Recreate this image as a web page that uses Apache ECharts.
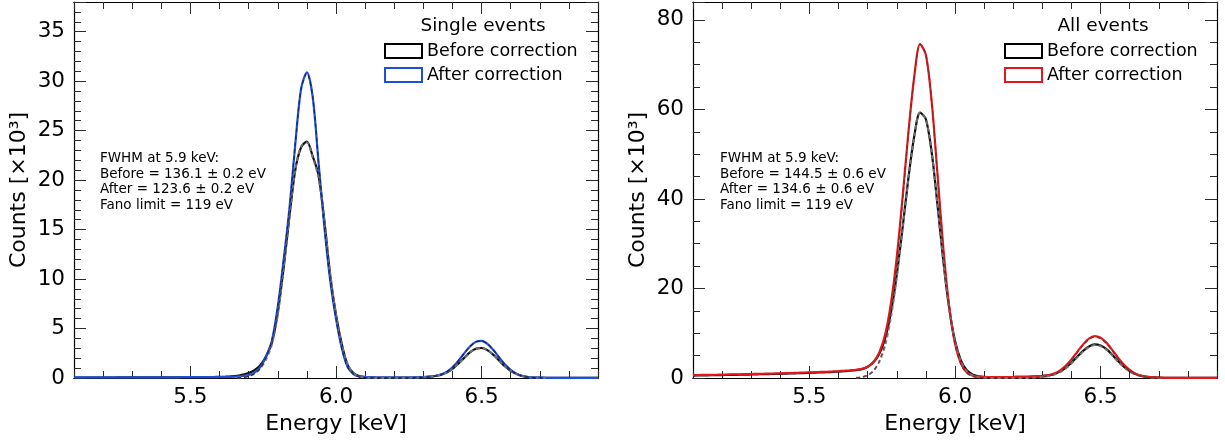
<!DOCTYPE html>
<html>
<head>
<meta charset="utf-8">
<script src="https://cdn.jsdelivr.net/npm/echarts@6.0.0/dist/echarts.min.js"></script>
<style>
    html, body { margin: 0; padding: 0; background: #fff; }
    #chart { width: 1225px; height: 440px; }
</style>
</head>
<body>
<div id="chart"></div>
<script>
// energy bins [keV]
var energy = [
    5.10, 5.12, 5.14, 5.16, 5.18, 5.20, 5.22, 5.24, 5.26, 5.28,
    5.30, 5.32, 5.34, 5.36, 5.38, 5.40, 5.42, 5.44, 5.46, 5.48,
    5.50, 5.52, 5.54, 5.56, 5.58, 5.60, 5.62, 5.64, 5.66, 5.68,
    5.70, 5.72, 5.74, 5.76, 5.78, 5.80, 5.82, 5.84, 5.86, 5.88,
    5.90, 5.92, 5.94, 5.96, 5.98, 6.00, 6.02, 6.04, 6.06, 6.08,
    6.10, 6.12, 6.14, 6.16, 6.18, 6.20, 6.22, 6.24, 6.26, 6.28,
    6.30, 6.32, 6.34, 6.36, 6.38, 6.40, 6.42, 6.44, 6.46, 6.48,
    6.50, 6.52, 6.54, 6.56, 6.58, 6.60, 6.62, 6.64, 6.66, 6.68,
    6.70, 6.72, 6.74, 6.76, 6.78, 6.80, 6.82, 6.84, 6.86, 6.88,
    6.90
];
// fits are drawn over 5.66 .. 6.72 keV
var fitEnergy = energy.slice(28, 82);

// counts [x10^3], single events
var singleBefore = [
    0.05, 0.05, 0.05, 0.05, 0.05, 0.05, 0.05, 0.05, 0.06, 0.06,
    0.06, 0.06, 0.06, 0.06, 0.07, 0.07, 0.07, 0.07, 0.07, 0.08,
    0.08, 0.08, 0.09, 0.09, 0.10, 0.11, 0.13, 0.16, 0.22, 0.35,
    0.5, 0.8, 1.3, 2.2, 3.6, 6.6, 11.1, 16.3, 21.0, 23.3,
    23.9, 22.4, 20.5, 15.9, 10.4, 6.4, 3.4, 1.3, 0.5, 0.2,
    0.1, 0.06, 0.05, 0.05, 0.05, 0.05, 0.05, 0.05, 0.05, 0.07,
    0.1, 0.14, 0.2, 0.32, 0.56, 0.93, 1.44, 2.02, 2.58, 2.95,
    3.03, 2.82, 2.36, 1.78, 1.19, 0.73, 0.40, 0.20, 0.10, 0.05,
    0.03, 0.02, 0.02, 0.02, 0.02, 0.02, 0.02, 0.02, 0.02, 0.02,
    0.02
];
var singleAfter = [
    0.06, 0.06, 0.06, 0.06, 0.06, 0.06, 0.06, 0.06, 0.06, 0.06,
    0.06, 0.06, 0.06, 0.07, 0.07, 0.07, 0.07, 0.07, 0.07, 0.08,
    0.08, 0.08, 0.08, 0.09, 0.09, 0.10, 0.10, 0.12, 0.15, 0.2,
    0.3, 0.55, 1.1, 2.2, 3.8, 7.2, 11.9, 17.1, 23.6, 29.2,
    30.9, 28.4, 21.8, 15.3, 9.9, 6.0, 3.0, 1.1, 0.4, 0.15,
    0.08, 0.06, 0.05, 0.05, 0.05, 0.05, 0.05, 0.05, 0.05, 0.07,
    0.09, 0.12, 0.2, 0.35, 0.62, 1.08, 1.73, 2.48, 3.18, 3.65,
    3.76, 3.46, 2.85, 2.10, 1.38, 0.82, 0.43, 0.20, 0.09, 0.05,
    0.03, 0.02, 0.02, 0.02, 0.02, 0.02, 0.02, 0.02, 0.02, 0.02,
    0.02
];
var singleBeforeFit = [
    0.05, 0.1, 0.2, 0.45, 0.95, 1.9, 3.4, 6.4, 11.0, 16.3,
    21.0, 23.4, 23.8, 22.3, 20.2, 15.9, 10.6, 6.4, 3.4, 1.4,
    0.5, 0.15, 0.05, 0.02, 0, 0, 0, 0, 0, 0.01,
    0.02, 0.05, 0.08, 0.13, 0.2, 0.32, 0.55, 0.92, 1.43, 2.0,
    2.57, 2.94, 3.02, 2.82, 2.36, 1.78, 1.19, 0.72, 0.39, 0.19,
    0.09, 0.04, 0.02, 0.01
];
var singleAfterFit = [
    0.02, 0.06, 0.18, 0.45, 1.0, 2.1, 3.8, 7.2, 11.9, 17.1,
    23.6, 29.2, 30.8, 28.4, 21.8, 15.3, 9.9, 6.0, 3.0, 1.1,
    0.4, 0.12, 0.03, 0.01, 0, 0, 0, 0, 0, 0.01,
    0.02, 0.04, 0.07, 0.11, 0.19, 0.34, 0.61, 1.07, 1.72, 2.47,
    3.17, 3.64, 3.75, 3.45, 2.84, 2.09, 1.37, 0.81, 0.42, 0.19,
    0.08, 0.03, 0.01, 0
];

// counts [x10^3], all events
var allBefore = [
    0.55, 0.57, 0.59, 0.61, 0.63, 0.66, 0.68, 0.70, 0.73, 0.76,
    0.79, 0.82, 0.85, 0.88, 0.91, 0.94, 0.98, 1.02, 1.06, 1.10,
    1.15, 1.20, 1.25, 1.30, 1.36, 1.43, 1.52, 1.62, 1.75, 1.95,
    2.5, 3.5, 5.4, 8.9, 14.7, 23.1, 33.6, 44.7, 54.0, 59.3,
    57.8, 50.4, 38.6, 26.1, 15.6, 8.3, 4.0, 1.8, 0.8, 0.4,
    0.25, 0.2, 0.2, 0.2, 0.2, 0.22, 0.24, 0.27, 0.3, 0.36,
    0.45, 0.6, 0.9, 1.42, 2.25, 3.4, 4.75, 6.05, 7.05, 7.5,
    7.25, 6.45, 5.2, 3.8, 2.55, 1.55, 0.88, 0.46, 0.24, 0.12,
    0.07, 0.05, 0.05, 0.04, 0.04, 0.04, 0.04, 0.04, 0.04, 0.04,
    0.04
];
var allAfter = [
    0.65, 0.67, 0.69, 0.71, 0.73, 0.76, 0.78, 0.80, 0.83, 0.86,
    0.89, 0.92, 0.95, 0.98, 1.01, 1.04, 1.08, 1.12, 1.16, 1.20,
    1.25, 1.30, 1.35, 1.40, 1.46, 1.53, 1.62, 1.72, 1.85, 2.05,
    2.5, 3.6, 5.7, 9.7, 16.7, 27.0, 40.4, 54.9, 67.3, 74.6,
    72.2, 61.7, 45.4, 28.9, 16.0, 7.7, 3.3, 1.3, 0.55, 0.3,
    0.22, 0.2, 0.2, 0.2, 0.2, 0.22, 0.24, 0.27, 0.3, 0.35,
    0.45, 0.62, 1.0, 1.65, 2.7, 4.15, 5.85, 7.5, 8.8, 9.35,
    9.0, 7.9, 6.3, 4.55, 3.0, 1.8, 0.98, 0.5, 0.24, 0.12,
    0.07, 0.05, 0.05, 0.04, 0.04, 0.04, 0.04, 0.04, 0.04, 0.04,
    0.04
];
var allBeforeFit = [
    0.05, 0.2, 0.6, 1.6, 3.6, 7.2, 13.5, 22.4, 33.2, 44.5,
    53.9, 59.3, 57.8, 50.4, 38.6, 26.0, 15.4, 8.1, 3.8, 1.6,
    0.6, 0.2, 0.06, 0.02, 0, 0, 0, 0, 0, 0.01,
    0.05, 0.1, 0.2, 0.38, 0.7, 1.25, 2.1, 3.25, 4.6, 5.9,
    6.9, 7.35, 7.1, 6.3, 5.05, 3.65, 2.4, 1.42, 0.76, 0.37,
    0.16, 0.06, 0.02, 0.01
];
var allAfterFit = [
    0.05, 0.2, 0.6, 1.6, 3.8, 8.0, 15.3, 26.0, 39.8, 54.6,
    67.2, 74.6, 72.2, 61.7, 45.4, 28.8, 15.8, 7.5, 3.1, 1.1,
    0.35, 0.1, 0.03, 0.01, 0, 0, 0, 0, 0, 0.01,
    0.03, 0.07, 0.18, 0.38, 0.78, 1.45, 2.5, 3.95, 5.65, 7.3,
    8.6, 9.15, 8.8, 7.7, 6.1, 4.35, 2.8, 1.62, 0.85, 0.4,
    0.17, 0.07, 0.02, 0.01
];

var majorTicks = [5.5, 6.0, 6.5];
var fwhmSingle = ['FWHM at 5.9 keV:', 'Before = 136.1 \u00b1 0.2 eV', 'After = 123.6 \u00b1 0.2 eV', 'Fano limit = 119 eV'];
var fwhmAll = ['FWHM at 5.9 keV:', 'Before = 144.5 \u00b1 0.6 eV', 'After = 134.6 \u00b1 0.6 eV', 'Fano limit = 119 eV'];

var FONT = 'DejaVu Sans';
var BLUE = '#1c4fdc';
var RED = '#e3171c';
var TICK = '#2a2a2a';

function pairs(xs, ys) {
    return xs.map(function (x, i) { return [x, ys[i]]; });
}

function xAxes(gi) {
    var base = {
        type: 'value', gridIndex: gi, min: 5.1, max: 6.9,
        splitLine: { show: false },
        axisLine: { show: true, lineStyle: { color: '#000', width: 1.2 } }
    };
    return [
        // bottom: major ticks + labels
        Object.assign({}, base, {
            position: 'bottom',
            name: 'Energy [keV]', nameLocation: 'middle', nameGap: 32,
            nameTextStyle: { fontSize: 22, fontFamily: FONT, color: '#000' },
            axisTick: { show: true, inside: true, length: 12, customValues: majorTicks, lineStyle: { color: TICK } },
            axisLabel: { show: true, customValues: majorTicks, margin: 8, fontSize: 21.5, fontFamily: FONT, color: '#000',
                formatter: function (v) { return v.toFixed(1); } }
        }),
        // bottom: minor ticks
        Object.assign({}, base, {
            position: 'bottom', interval: 0.1,
            axisTick: { show: true, inside: true, length: 7, lineStyle: { color: TICK } },
            axisLabel: { show: false }
        }),
        // top mirror
        Object.assign({}, base, {
            position: 'top',
            axisTick: { show: true, inside: true, length: 12, customValues: majorTicks, lineStyle: { color: TICK } },
            axisLabel: { show: false }
        }),
        Object.assign({}, base, {
            position: 'top', interval: 0.1,
            axisTick: { show: true, inside: true, length: 7, lineStyle: { color: TICK } },
            axisLabel: { show: false }
        })
    ];
}

function yAxes(gi, max, step, split) {
    var base = {
        type: 'value', gridIndex: gi, min: 0, max: max, interval: step,
        splitLine: { show: false },
        axisLine: { show: true, lineStyle: { color: '#000', width: 1.2 } },
        axisTick: { show: true, inside: true, length: 12, lineStyle: { color: TICK } },
        minorTick: { show: true, splitNumber: split, length: 7, lineStyle: { color: TICK } }
    };
    return [
        Object.assign({}, base, {
            position: 'left',
            name: 'Counts [\u00d710\u00b3]', nameLocation: 'middle', nameGap: 44,
            nameTextStyle: { fontSize: 22, fontFamily: FONT, color: '#000' },
            axisLabel: { show: true, margin: 9, fontSize: 21.5, fontFamily: FONT, color: '#000', showMaxLabel: false }
        }),
        Object.assign({}, base, {
            position: 'right',
            axisLabel: { show: false }
        })
    ];
}

function dataLine(name, xi, yi, ys, color, z) {
    return {
        name: name, type: 'line', xAxisIndex: xi, yAxisIndex: yi,
        data: pairs(energy, ys), showSymbol: false, smooth: 0.3, z: z,
        lineStyle: { color: color, width: 2.2 }, itemStyle: { color: color }
    };
}

function fitLine(xi, yi, ys, color, width, z) {
    return {
        name: 'fit', type: 'line', xAxisIndex: xi, yAxisIndex: yi,
        data: pairs(fitEnergy, ys), showSymbol: false, smooth: 0.3, z: z,
        lineStyle: { color: color, width: width, type: [4, 3] }, itemStyle: { color: color }
    };
}

function legendBox(left, afterColor) {
    return {
        left: left, top: 42, orient: 'vertical', selectedMode: false, padding: 0,
        itemWidth: 37, itemHeight: 14, itemGap: 6, icon: 'rect',
        textStyle: { fontSize: 17.5, fontFamily: FONT, color: '#000' },
        itemStyle: { color: 'rgba(0,0,0,0)', borderWidth: 2 },
        data: [
            { name: 'Before correction', itemStyle: { color: 'rgba(0,0,0,0)', borderColor: '#000', borderWidth: 2 } },
            { name: 'After correction', itemStyle: { color: 'rgba(0,0,0,0)', borderColor: afterColor, borderWidth: 2 } }
        ]
    };
}

function noteText(x, lines) {
    return {
        type: 'text', x: x, y: 151,
        style: { text: lines.join('\n'), font: '13.5px "DejaVu Sans"', lineHeight: 15.5, fill: '#000' }
    };
}

function legendTitle(x, text) {
    return {
        type: 'text', x: x, y: 26,
        style: { text: text, font: '18.5px "DejaVu Sans"', fill: '#000', align: 'center', verticalAlign: 'middle' }
    };
}

var myChart = echarts.init(document.getElementById('chart'), null, { renderer: 'canvas' });

var option = {
    backgroundColor: '#fff',
    animation: false,
    textStyle: { fontFamily: FONT },
    grid: [
        { left: 74, top: 2, width: 524, height: 376 },
        { left: 693, top: 2, width: 524, height: 376 }
    ],
    xAxis: xAxes(0).concat(xAxes(1)),
    yAxis: yAxes(0, 38, 5, 5).concat(yAxes(1, 84, 20, 4)),
    legend: [legendBox(384, BLUE), legendBox(1004, RED)],
    graphic: [
        noteText(100, fwhmSingle),
        noteText(720, fwhmAll),
        legendTitle(483, 'Single events'),
        legendTitle(1103, 'All events')
    ],
    series: [
        dataLine('Before correction', 0, 0, singleBefore, '#111', 2),
        dataLine('After correction', 0, 0, singleAfter, BLUE, 3),
        fitLine(0, 0, singleBeforeFit, 'rgba(120,120,120,0.9)', 2, 4),
        fitLine(0, 0, singleAfterFit, 'rgba(30,30,60,0.85)', 1.3, 5),

        dataLine('Before correction', 4, 2, allBefore, '#111', 2),
        dataLine('After correction', 4, 2, allAfter, RED, 3),
        fitLine(4, 2, allBeforeFit, 'rgba(120,120,120,0.9)', 2, 4),
        fitLine(4, 2, allAfterFit, 'rgba(110,45,45,0.85)', 1.3, 5)
    ]
};

myChart.setOption(option);
</script>
</body>
</html>
